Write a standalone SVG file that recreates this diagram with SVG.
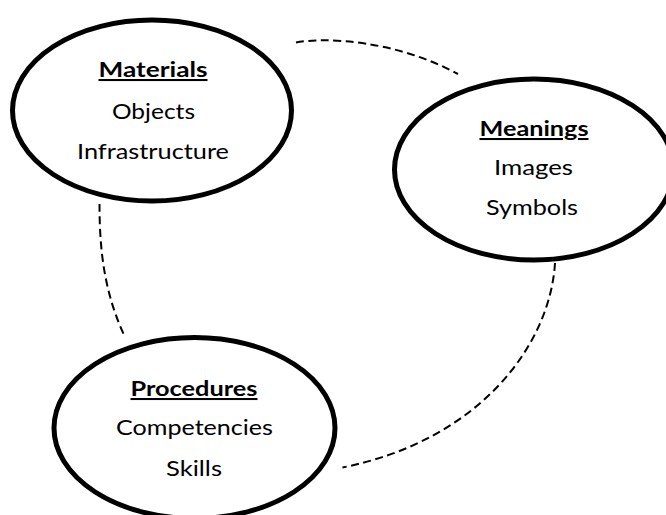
<svg xmlns="http://www.w3.org/2000/svg" width="666" height="515" viewBox="0 0 666 515">
  <style>
    .node ellipse { fill: #ffffff; stroke: #000000; stroke-width: 5; }
    .node text { font-family: Lato, "Open Sans", "Liberation Sans", sans-serif; font-size: 20.5px; fill: #000000; text-anchor: middle; }
    .node text.title { font-weight: bold; text-decoration: underline; }
    .link { fill: none; stroke: #000000; stroke-width: 2; stroke-dasharray: 8 4.5; }
  </style>

  <!-- dashed links between the three elements -->
  <g id="connectors">
    <path class="link" d="M296,42.5 C325,37 395,40 458,74"/>
    <path class="link" d="M555,263 C550,345 480,440 342.5,467.5"/>
    <path class="link" d="M99.5,204 C99.5,245 103,290 124.5,336"/>
  </g>

  <g id="materials" class="node">
    <ellipse cx="152" cy="110.5" rx="139.5" ry="90.5"/>
    <text class="title" x="153" y="77" textLength="109" lengthAdjust="spacingAndGlyphs">Materials</text>
    <text x="153.5" y="119" textLength="83" lengthAdjust="spacingAndGlyphs">Objects</text>
    <text x="153" y="159" textLength="152" lengthAdjust="spacingAndGlyphs">Infrastructure</text>
  </g>

  <g id="meanings" class="node">
    <ellipse cx="534" cy="169.5" rx="139.5" ry="90.5"/>
    <text class="title" x="534" y="136" textLength="109" lengthAdjust="spacingAndGlyphs">Meanings</text>
    <text x="533.5" y="175" textLength="79" lengthAdjust="spacingAndGlyphs">Images</text>
    <text x="532" y="215" textLength="92" lengthAdjust="spacingAndGlyphs">Symbols</text>
  </g>

  <g id="procedures" class="node">
    <ellipse cx="194.5" cy="428" rx="140.5" ry="90.5"/>
    <text class="title" x="194" y="396" textLength="127" lengthAdjust="spacingAndGlyphs">Procedures</text>
    <text x="194.5" y="435" textLength="157" lengthAdjust="spacingAndGlyphs">Competencies</text>
    <text x="194" y="476" textLength="56" lengthAdjust="spacingAndGlyphs">Skills</text>
  </g>
</svg>
